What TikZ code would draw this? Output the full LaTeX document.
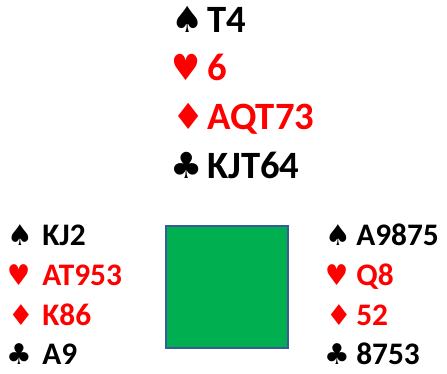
\documentclass[tikz,border=0pt]{standalone}
\usepackage{fontspec}
\setmainfont{Carlito}
\newfontfamily\suitfont{DejaVu Sans}
\usepackage{xcolor}
\usepackage{graphicx}
\usetikzlibrary{positioning}

\definecolor{suitred}{HTML}{FF0000}
\definecolor{tablegreen}{HTML}{00B050}
\definecolor{tableblue}{HTML}{3A5A9C}

% narrower heart, as in the reference
\newcommand{\narrowheart}{\scalebox{0.9}[1]{♥}}

\begin{document}
\begin{tikzpicture}[
    x=0.75pt, y=-0.75pt,
    bigsuit/.style={anchor=base west, inner sep=0pt, font=\suitfont\fontsize{27}{27}\selectfont, text=#1},
    bigsuit/.default=black,
    bighand/.style={anchor=base west, inner sep=0pt, font=\fontsize{29}{29}\selectfont\bfseries, text=#1},
    bighand/.default=black,
    smallsuit/.style={anchor=base west, inner sep=0pt, font=\suitfont\fontsize{21.5}{21.5}\selectfont, text=#1},
    smallsuit/.default=black,
    smallhand/.style={anchor=base west, inner sep=0pt, font=\fontsize{23.5}{23.5}\selectfont\bfseries, text=#1},
    smallhand/.default=black,
    table/.style={draw=tableblue, fill=tablegreen, line width=1.1pt}
]
    \useasboundingbox (0,0) rectangle (447,374);

    % North
    \node[bigsuit]          (nS) at (171,33)  {♠};
    \node[bighand]          (ns) at (207,33)  {T4};
    \node[bigsuit=suitred]  (nH) at (171,81)  {\narrowheart};
    \node[bighand=suitred]  (nh) at (207,81)  {6};
    \node[bigsuit=suitred]  (nD) at (172,130) {♦};
    \node[bighand=suitred]  (nd) at (207,130) {AQT73};
    \node[bigsuit]          (nC) at (170,179) {♣};
    \node[bighand]          (nc) at (207,179) {KJT64};

    % West
    \node[smallsuit]         (wS) at (7,246)  {♠};
    \node[smallhand]         (ws) at (42,246) {KJ2};
    \node[smallsuit=suitred] (wH) at (7,286)  {\narrowheart};
    \node[smallhand=suitred] (wh) at (42,286) {AT953};
    \node[smallsuit=suitred] (wD) at (8,326)  {♦};
    \node[smallhand=suitred] (wd) at (42,326) {K86};
    \node[smallsuit]         (wC) at (6,365)  {♣};
    \node[smallhand]         (wc) at (42,365) {A9};

    % East
    \node[smallsuit]         (eS) at (325,246) {♠};
    \node[smallhand]         (es) at (356,246) {A9875};
    \node[smallsuit=suitred] (eH) at (325,286) {\narrowheart};
    \node[smallhand=suitred] (eh) at (356,286) {Q8};
    \node[smallsuit=suitred] (eD) at (326,326) {♦};
    \node[smallhand=suitred] (ed) at (356,326) {52};
    \node[smallsuit]         (eC) at (324,365) {♣};
    \node[smallhand]         (ec) at (356,365) {8753};

    % Table
    \draw[table] (166,226) rectangle (288,348);

\end{tikzpicture}
\end{document}
